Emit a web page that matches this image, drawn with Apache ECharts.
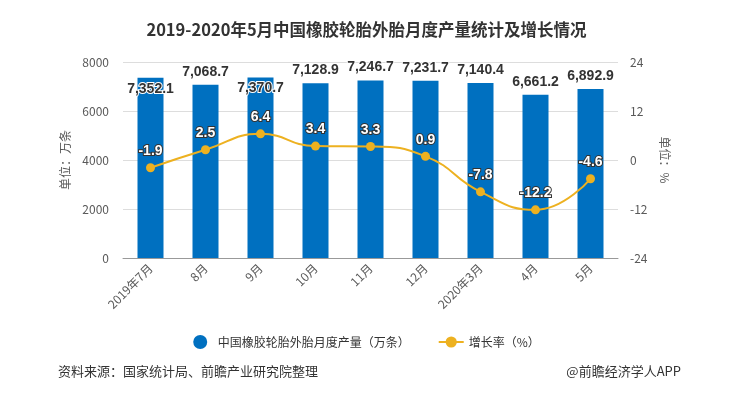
<!DOCTYPE html>
<html>
<head>
<meta charset="utf-8">
<script src="https://cdn.jsdelivr.net/npm/echarts@6/dist/echarts.min.js"></script>
<style>
html,body{margin:0;padding:0;background:#fff;}
#main{width:733px;height:396px;}
</style>
</head>
<body>
<div id="main"></div>
<script>
const categories = ['2019年7月','8月','9月','10月','11月','12月','2020年3月','4月','5月'];
const production = [7352.1, 7068.7, 7370.7, 7128.9, 7246.7, 7231.7, 7140.4, 6661.2, 6892.9];
const growth = [-1.9, 2.5, 6.4, 3.4, 3.3, 0.9, -7.8, -12.2, -4.6];
const leftTicks = [0, 2000, 4000, 6000, 8000];
const rightTicks = [-24, -12, 0, 12, 24];
const insideLabelIdx = [0, 2];

const FONT = '"Noto Sans CJK SC", "Microsoft YaHei", sans-serif';
const NUMFONT = '"Liberation Sans", Arial, sans-serif';
const chart = echarts.init(document.getElementById('main'));

const barData = production.map((v, i) => {
  if (insideLabelIdx.indexOf(i) >= 0) {
    return { value: v, label: { position: 'insideTop', distance: 4 } };
  }
  return v;
});

chart.setOption({
  animation: false,
  textStyle: { fontFamily: FONT },
  title: {
    text: '2019-2020年5月中国橡胶轮胎外胎月度产量统计及增长情况',
    left: 'center', top: 16,
    textStyle: { fontSize: 16.5, fontWeight: 'bold', color: '#333', fontFamily: FONT }
  },
  grid: { left: 123, right: 115, top: 62, bottom: 138 },
  legend: {
    bottom: 42, left: 'center', itemGap: 28,
    textStyle: { fontSize: 12, color: '#333', fontFamily: FONT },
    data: [
      { name: '中国橡胶轮胎外胎月度产量（万条）', icon: 'circle' },
      { name: '增长率（%）' }
    ]
  },
  xAxis: {
    type: 'category', data: categories,
    axisLine: { lineStyle: { color: '#999' } },
    axisTick: { alignWithLabel: true, length: 5, lineStyle: { color: '#999' } },
    axisLabel: { rotate: 45, color: '#595959', fontSize: 12, margin: 8, fontFamily: FONT }
  },
  yAxis: [
    {
      type: 'value', min: leftTicks[0], max: leftTicks[leftTicks.length - 1], interval: 2000,
      name: '单位：万条', nameLocation: 'middle', nameGap: 45, nameRotate: 90,
      nameTextStyle: { color: '#595959', fontSize: 12, fontFamily: FONT },
      axisLine: { show: false }, axisTick: { show: false },
      axisLabel: { color: '#595959', fontSize: 12, margin: 14, formatter: v => String(v) },
      splitLine: { lineStyle: { color: '#ddd' } }
    },
    {
      type: 'value', min: rightTicks[0], max: rightTicks[rightTicks.length - 1], interval: 12,
      name: '单位：%', nameLocation: 'middle', nameGap: 38, nameRotate: -90,
      nameTextStyle: { color: '#595959', fontSize: 12, fontFamily: FONT },
      axisLine: { show: false }, axisTick: { show: false },
      axisLabel: { color: '#595959', fontSize: 12, margin: 12 },
      splitLine: { show: false }
    }
  ],
  series: [
    {
      name: '中国橡胶轮胎外胎月度产量（万条）', type: 'bar', yAxisIndex: 0,
      data: barData, barWidth: 26,
      itemStyle: { color: '#0070C0' },
      label: {
        show: true, position: 'top', distance: 6,
        fontSize: 14, fontWeight: 'bold', color: '#333', fontFamily: NUMFONT,
        textBorderColor: '#fff', textBorderWidth: 2,
        formatter: p => p.value.toLocaleString('en-US', { minimumFractionDigits: 1, maximumFractionDigits: 1 })
      }
    },
    {
      name: '增长率（%）', type: 'line', yAxisIndex: 1, data: growth,
      smooth: true, symbol: 'circle', symbolSize: 9,
      itemStyle: { color: '#EDB120' },
      lineStyle: { color: '#EDB120', width: 2 },
      label: {
        show: true, position: 'top', distance: 5,
        fontSize: 14, fontWeight: 'bold', color: '#fff', fontFamily: NUMFONT,
        textBorderColor: '#333', textBorderWidth: 2
      }
    }
  ],
  graphic: [
    { type: 'text', left: 58, top: 365,
      style: { text: '资料来源：国家统计局、前瞻产业研究院整理', fontSize: 13, fill: '#333', fontFamily: FONT } },
    { type: 'text', right: 52, top: 365,
      style: { text: '@前瞻经济学人APP', fontSize: 13, fill: '#333', fontFamily: FONT } }
  ]
});
</script>
</body>
</html>
